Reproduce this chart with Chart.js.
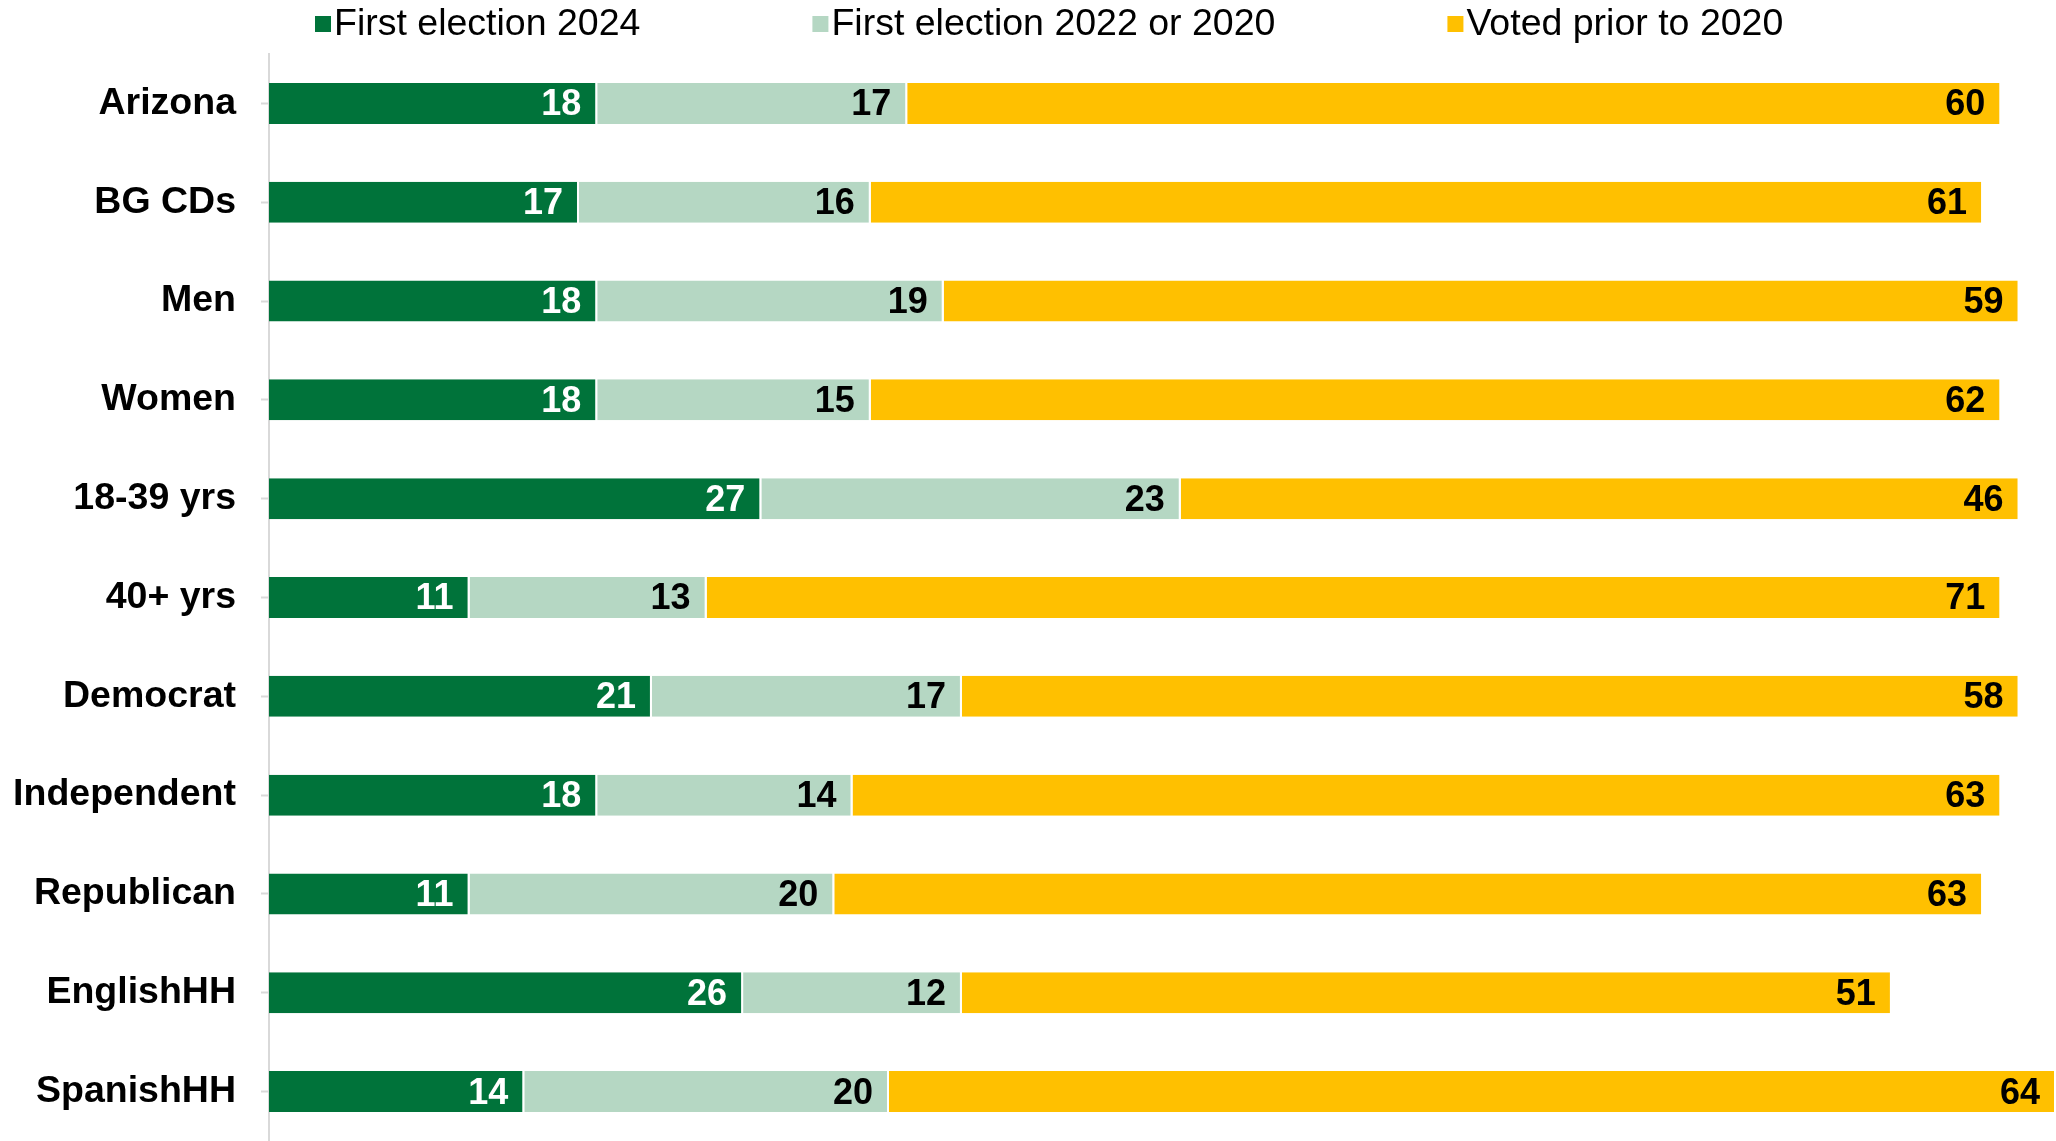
<!DOCTYPE html>
<html>
<head>
<meta charset="utf-8">
<script src="https://cdn.jsdelivr.net/npm/chart.js@4.4.1/dist/chart.umd.min.js"></script>
<style>
  body { margin: 0; background: #fff; }
  #wrap { width: 2056px; height: 1141px; position: relative; }
</style>
</head>
<body>
<div id="wrap"><canvas id="votersChart"></canvas></div>
<script>
// categories and series values (percent)
const groups = ['Arizona', 'BG CDs', 'Men', 'Women', '18-39 yrs', '40+ yrs', 'Democrat', 'Independent', 'Republican', 'EnglishHH', 'SpanishHH'];
const first2024 = [18, 17, 18, 18, 27, 11, 21, 18, 11, 26, 14];
const first2022or2020 = [17, 16, 19, 15, 23, 13, 17, 14, 20, 12, 20];
const priorTo2020 = [60, 61, 59, 62, 46, 71, 58, 63, 63, 51, 64];

const seriesNames = ['First election 2024', 'First election 2022 or 2020', 'Voted prior to 2020'];
const seriesColors = ['#00733a', '#b5d7c3', '#ffc000'];
const labelColors = ['#ffffff', '#000000', '#000000'];

const fontFamily = "'Liberation Sans', Arial, sans-serif";

// value labels drawn inside the end of each segment
const valueLabels = {
    id: 'valueLabels',
    afterDatasetsDraw(chart) {
        const ctx = chart.ctx;
        ctx.save();
        ctx.font = 'bold 36px ' + fontFamily;
        ctx.textAlign = 'right';
        ctx.textBaseline = 'middle';
        chart.data.datasets.forEach((ds, i) => {
            const meta = chart.getDatasetMeta(i);
            ctx.fillStyle = labelColors[i];
            meta.data.forEach((bar, j) => {
                ctx.fillText(ds.data[j], bar.x - 16, bar.y + 2);
            });
        });
        ctx.restore();
    }
};

// legend drawn by hand so the spacing matches
const topLegend = {
    id: 'topLegend',
    afterDraw(chart) {
        const ctx = chart.ctx;
        ctx.save();
        ctx.font = '37.5px ' + fontFamily;
        ctx.textBaseline = 'middle';
        ctx.textAlign = 'left';
        let x = 315;
        const y = 24;
        chart.data.datasets.forEach((ds) => {
            ctx.fillStyle = ds.backgroundColor;
            ctx.fillRect(x, y - 8, 16, 16);
            ctx.fillStyle = '#000';
            ctx.fillText(ds.label, x + 19, y + 1);
            x += 19 + ctx.measureText(ds.label).width + 172;
        });
        ctx.restore();
    }
};

const ctx = document.getElementById('votersChart').getContext('2d');
new Chart(ctx, {
    type: 'bar',
    data: {
        labels: groups,
        datasets: [first2024, first2022or2020, priorTo2020].map((vals, i) => ({
            label: seriesNames[i],
            data: vals,
            backgroundColor: seriesColors[i],
            borderColor: '#ffffff',
            borderWidth: { right: 2, left: 0, top: 0, bottom: 0 },
            borderSkipped: false,
            categoryPercentage: 1,
            barPercentage: 0.415
        }))
    },
    options: {
        indexAxis: 'y',
        responsive: true,
        maintainAspectRatio: false,
        animation: false,
        layout: {
            padding: { top: 54, bottom: 0, left: 0, right: 0 }
        },
        scales: {
            x: {
                stacked: true,
                display: false,
                min: 0,
                max: 98
            },
            y: {
                stacked: true,
                afterFit(scale) {
                    scale.width = 269;
                    scale.paddingTop = 0;
                    scale.paddingBottom = 0;
                },
                border: { display: true, color: '#d9d9d9', width: 2 },
                grid: {
                    offset: false,
                    drawOnChartArea: false,
                    drawTicks: true,
                    tickLength: 8,
                    tickWidth: 2,
                    color: '#d9d9d9'
                },
                ticks: {
                    color: '#000',
                    padding: 25,
                    font: { family: fontFamily, size: 37.5, weight: 'bold' }
                }
            }
        },
        plugins: {
            legend: { display: false },
            tooltip: { enabled: false }
        }
    },
    plugins: [valueLabels, topLegend]
});
</script>
</body>
</html>
